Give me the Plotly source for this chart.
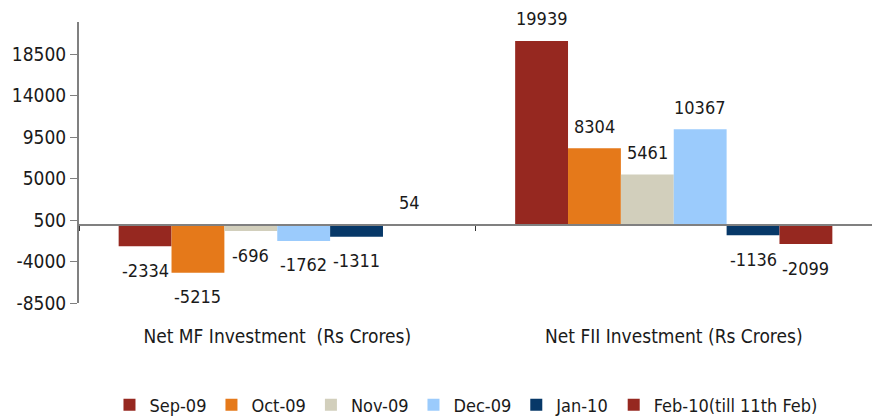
import plotly.graph_objects as go

categories = ["Net MF Investment  (Rs Crores)", "Net FII Investment (Rs Crores)"]
series_names = ["Sep-09", "Oct-09", "Nov-09", "Dec-09", "Jan-10", "Feb-10(till 11th Feb)"]
sep09 = [-2334, 19939]
oct09 = [-5215, 8304]
nov09 = [-696, 5461]
dec09 = [-1762, 10367]
jan10 = [-1311, -1136]
feb10 = [54, -2099]
series_values = [sep09, oct09, nov09, dec09, jan10, feb10]
colors = ["#962820", "#E5791A", "#D2CFBC", "#9BCBFC", "#073868", "#962820"]
y_ticks = [-8500, -4000, 500, 5000, 9500, 14000, 18500]

FONT = "Liberation Sans Narrow, Arial Narrow, DejaVu Sans Condensed, sans-serif"
ymin, ymax = -8500, 22000
bargap = 0.2

fig = go.Figure()
for name, vals, col in zip(series_names, series_values, colors):
    fig.add_trace(go.Bar(name=name, x=categories, y=vals, marker=dict(color=col, line=dict(width=0)),
                         hoverinfo="skip"))

# invisible trace to render the category-boundary axis at zero
fig.add_trace(go.Scatter(x=categories, y=[None, None], xaxis="x2", showlegend=False,
                         mode="markers", hoverinfo="skip"))

nser = len(series_names)
bw = (1 - bargap) / nser
annotations = []
for si, vals in enumerate(series_values):
    for ci, v in enumerate(vals):
        annotations.append(dict(
            x=ci + (si - (nser - 1) / 2) * bw, y=v, xref="x", yref="y",
            text=str(v), showarrow=False, yanchor="middle", borderpad=0,
            yshift=22 if v >= 0 else -24,
            font=dict(family=FONT, size=18, color="#1a1a1a")))

zero_pos = (0 - ymin) / (ymax - ymin)

# page body has an 8px margin, so the figure is sized/offset accordingly
fig.update_layout(
    width=872, height=411,
    margin=dict(l=71, r=8, t=14, b=116, autoexpand=False),
    paper_bgcolor="white", plot_bgcolor="white",
    barmode="group", bargap=bargap, bargroupgap=0,
    font=dict(family=FONT, size=19, color="#1a1a1a"),
    showlegend=True,
    legend=dict(orientation="h", x=0.488, xanchor="center", y=0.034, yanchor="middle",
                yref="container",
                font=dict(family=FONT, size=18), itemwidth=30, traceorder="normal",
                bgcolor="rgba(0,0,0,0)"),
    xaxis=dict(type="category", categoryorder="array", categoryarray=categories,
               showline=False, showgrid=False, zeroline=False, ticks="", automargin=False,
               tickfont=dict(family=FONT, size=19), ticklabelstandoff=20),
    xaxis2=dict(type="category", overlaying="x", matches="x", anchor="free", position=zero_pos,
                showline=True, linecolor="#808080", linewidth=2, showgrid=False,
                ticks="outside", tickson="boundaries", ticklen=5, tickcolor="#333333",
                showticklabels=False, side="bottom", automargin=False),
    yaxis=dict(range=[ymin, ymax], tickvals=y_ticks, ticktext=[str(t) for t in y_ticks],
               showline=True, linecolor="#808080", linewidth=2, showgrid=False,
               zeroline=False, ticks="outside", ticklen=7, tickcolor="#808080",
               automargin=False, tickfont=dict(family=FONT, size=19)),
    annotations=annotations,
)

fig.write_html("out.html")
